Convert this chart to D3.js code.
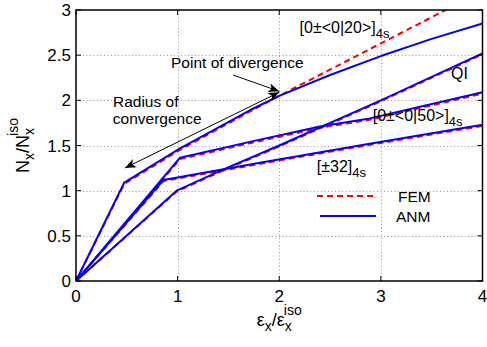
<!DOCTYPE html>
<html>
<head>
<meta charset="utf-8">
<script src="https://cdn.jsdelivr.net/npm/d3@7"></script>
<style>
  body { margin: 0; background: #fff; }
  svg { display: block; font-family: "Liberation Sans", Arial, sans-serif; }
</style>
</head>
<body>
<svg id="chart" width="487" height="347"></svg>
<script>
// axes
const xTicks = [0, 1, 2, 3, 4];
const yTicks = [0, 0.5, 1, 1.5, 2, 2.5, 3];

// [0±<0|20>]4s
const anm20 = [[0, 0], [0.475, 1.09], [1.02, 1.465], [1.71, 1.89], [2.0, 2.05], [2.5, 2.28], [3, 2.49], [3.5, 2.68], [4, 2.85]];
const fem20 = [[0, 0], [0.475, 1.075], [1.02, 1.45], [1.71, 1.875], [2.0, 2.05], [2.5, 2.34], [3, 2.63], [3.5, 2.92], [4, 3.21]];
// [0±<0|50>]4s
const anm50 = [[0, 0], [1.024, 1.365], [1.71, 1.54], [2.4, 1.71], [2.89, 1.80], [4, 2.09]];
const fem50 = [[0, 0], [1.024, 1.35], [1.71, 1.525], [2.4, 1.695], [2.89, 1.785], [4, 2.075]];
// QI
const anmQI = [[0, 0], [0.99, 1.0], [1.48, 1.25], [2, 1.5], [3, 2.0], [4, 2.52]];
const femQI = [[0, 0], [0.99, 0.99], [1.48, 1.24], [2, 1.49], [3, 1.99], [4, 2.51]];
// [±32]4s
const anm32 = [[0, 0], [0.86, 1.118], [1.81, 1.31], [2.89, 1.52], [4, 1.73]];
const fem32 = [[0, 0], [0.86, 1.105], [1.81, 1.297], [2.89, 1.507], [4, 1.717]];

const svg = d3.select("#chart");
const W = 487, H = 347;
const m = { left: 76, right: 4.5, top: 10, bottom: 66 };
const x = d3.scaleLinear().domain([0, 4]).range([m.left, W - m.right]);
const y = d3.scaleLinear().domain([0, 3]).range([H - m.bottom, m.top]);

svg.append("defs").append("clipPath").attr("id", "clip")
  .append("rect")
  .attr("x", x(0)).attr("y", y(3))
  .attr("width", x(4) - x(0)).attr("height", y(0) - y(3));

// grid
const grid = svg.append("g").attr("stroke", "#999").attr("stroke-width", 1).attr("stroke-dasharray", "1,2.5");
grid.selectAll(".gx").data(xTicks.slice(1, -1)).join("line")
  .attr("x1", d => Math.round(x(d)) + 0.5).attr("x2", d => Math.round(x(d)) + 0.5)
  .attr("y1", y(0)).attr("y2", y(3));
grid.selectAll(".gy").data(yTicks.slice(1, -1)).join("line")
  .attr("y1", d => Math.round(y(d)) + 0.5).attr("y2", d => Math.round(y(d)) + 0.5)
  .attr("x1", x(0)).attr("x2", x(4));

// lines
const line = d3.line().x(d => x(d[0])).y(d => y(d[1]));
const plot = svg.append("g").attr("clip-path", "url(#clip)");
[fem20, fem50, femQI, fem32].forEach(s => {
  plot.append("path").attr("d", line(s)).attr("fill", "none")
    .attr("stroke", "#ff0000").attr("stroke-width", 2).attr("stroke-dasharray", "6,4");
});
[anm20, anm50, anmQI, anm32].forEach(s => {
  plot.append("path").attr("d", line(s)).attr("fill", "none")
    .attr("stroke", "#0000ff").attr("stroke-width", 2).attr("stroke-linejoin", "round");
});

// box + ticks
svg.append("rect").attr("x", x(0)).attr("y", y(3))
  .attr("width", x(4) - x(0)).attr("height", y(0) - y(3))
  .attr("fill", "none").attr("stroke", "#000").attr("stroke-width", 1.5);
const tk = svg.append("g").attr("stroke", "#000").attr("stroke-width", 1);
xTicks.forEach(d => {
  tk.append("line").attr("x1", x(d)).attr("x2", x(d)).attr("y1", y(0)).attr("y2", y(0) - 5);
  tk.append("line").attr("x1", x(d)).attr("x2", x(d)).attr("y1", y(3)).attr("y2", y(3) + 5);
});
yTicks.forEach(d => {
  tk.append("line").attr("y1", y(d)).attr("y2", y(d)).attr("x1", x(0)).attr("x2", x(0) + 5);
  tk.append("line").attr("y1", y(d)).attr("y2", y(d)).attr("x1", x(4)).attr("x2", x(4) - 5);
});

// tick labels
svg.append("g").selectAll("text").data(xTicks).join("text")
  .attr("x", d => x(d)).attr("y", y(0) + 21)
  .attr("text-anchor", "middle").attr("font-size", 17).text(d => d);
svg.append("g").selectAll("text").data(yTicks).join("text")
  .attr("x", x(0) - 5).attr("y", d => y(d) + 6)
  .attr("text-anchor", "end").attr("font-size", 17).text(d => d);

// axis titles (sub and superscript stacked)
const xt = svg.append("text").attr("x", x(2)).attr("y", 326)
  .attr("text-anchor", "middle").attr("font-size", 18);
xt.append("tspan").text("ε");
xt.append("tspan").attr("font-size", 14).attr("dy", 5).text("x");
xt.append("tspan").attr("dy", -5).text("/ε");
xt.append("tspan").attr("font-size", 14).attr("dy", 5).text("x");
xt.append("tspan").attr("font-size", 14).attr("dx", -8).attr("dy", -16).text("iso");

const yt = svg.append("text")
  .attr("transform", `translate(29,${(y(0) + y(3)) / 2}) rotate(-90)`)
  .attr("text-anchor", "middle").attr("font-size", 18);
yt.append("tspan").text("N");
yt.append("tspan").attr("font-size", 14).attr("dy", 5).text("x");
yt.append("tspan").attr("dy", -5).text("/N");
yt.append("tspan").attr("font-size", 14).attr("dy", 5).text("x");
yt.append("tspan").attr("font-size", 14).attr("dx", -8).attr("dy", -16).text("iso");

// curve labels
function label(px, py, main, sub) {
  const t = svg.append("text").attr("x", x(px)).attr("y", y(py)).attr("font-size", 16);
  t.append("tspan").text(main);
  if (sub) t.append("tspan").attr("font-size", 13).attr("dy", 5).text(sub);
}
label(2.2, 2.745, "[0±<0|20>]", "4s");
label(3.69, 2.236, "QI");
label(2.92, 1.771, "[0±<0|50>]", "4s");
label(2.37, 1.21, "[±32]", "4s");

// annotations
const defs = svg.select("defs");
defs.append("marker").attr("id", "ah").attr("viewBox", "-12 -6 14 12")
  .attr("markerWidth", 14).attr("markerHeight", 12).attr("refX", 0).attr("refY", 0)
  .attr("markerUnits", "userSpaceOnUse").attr("orient", "auto-start-reverse")
  .append("path").attr("d", "M0,0 L-11,-4.5 L-8,0 L-11,4.5 Z").attr("fill", "#000");

svg.append("line")
  .attr("x1", x(0.482)).attr("y1", y(1.251)).attr("x2", x(2.0)).attr("y2", y(2.09))
  .attr("stroke", "#000").attr("stroke-width", 1)
  .attr("marker-start", "url(#ah)").attr("marker-end", "url(#ah)");
svg.append("line")
  .attr("x1", x(1.545)).attr("y1", y(2.28)).attr("x2", x(2.0)).attr("y2", y(2.10))
  .attr("stroke", "#000").attr("stroke-width", 1).attr("marker-end", "url(#ah)");

svg.append("text").attr("x", x(0.935)).attr("y", y(2.355)).attr("font-size", 15.5).text("Point of divergence");
svg.append("text").attr("x", x(0.364)).attr("y", y(1.926)).attr("font-size", 15.5).text("Radius of");
svg.append("text").attr("x", x(0.362)).attr("y", y(1.738)).attr("font-size", 15.5).text("convergence");

// legend
const lg = svg.append("g");
lg.append("line").attr("x1", 317).attr("x2", 373).attr("y1", 196).attr("y2", 196)
  .attr("stroke", "#ff0000").attr("stroke-width", 2).attr("stroke-dasharray", "6,4");
lg.append("text").attr("x", 398).attr("y", 201.5).attr("font-size", 15.5).text("FEM");
lg.append("line").attr("x1", 320).attr("x2", 376).attr("y1", 216).attr("y2", 216)
  .attr("stroke", "#0000ff").attr("stroke-width", 2);
lg.append("text").attr("x", 396).attr("y", 221.5).attr("font-size", 15.5).text("ANM");
</script>
</body>
</html>
